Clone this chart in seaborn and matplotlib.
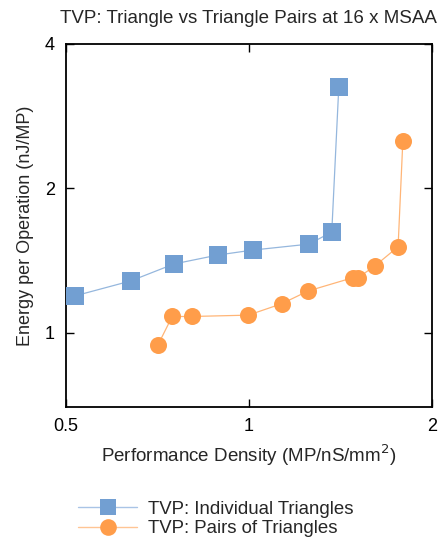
import matplotlib
matplotlib.use("Agg")
import matplotlib.pyplot as plt
from matplotlib.lines import Line2D
from matplotlib.ticker import FixedLocator, FixedFormatter, NullLocator
import seaborn as sns
import pandas as pd

# individual triangles
ind_density = [0.517, 0.639, 0.753, 0.889, 1.015, 1.255, 1.369, 1.406]
ind_energy = [1.193, 1.282, 1.391, 1.452, 1.487, 1.530, 1.621, 3.257]

# pairs of triangles
pair_density = [0.709, 0.748, 0.805, 0.998, 1.132, 1.252, 1.485, 1.513, 1.612, 1.760, 1.792]
pair_energy = [0.944, 1.081, 1.081, 1.088, 1.149, 1.222, 1.303, 1.303, 1.378, 1.511, 2.512]

x_ticks = [0.5, 1, 2]
x_labels = ['0.5', '1', '2']
y_ticks = [1, 2, 4]
y_labels = ['1', '2', '4']

blue = '#729fd2'
orange = '#ff9d4a'

sns.set_style("ticks")
plt.rcParams['font.family'] = ['Liberation Sans', 'DejaVu Sans']

fig = plt.figure(figsize=(4.42, 5.41), dpi=100)
ax = fig.add_axes([0.149, 0.2477, 0.828, 0.671])

df_ind = pd.DataFrame({'x': ind_density, 'y': ind_energy})
df_pair = pd.DataFrame({'x': pair_density, 'y': pair_energy})

sns.lineplot(data=df_ind, x='x', y='y', ax=ax, color=blue, alpha=0.75,
             linewidth=0.9, estimator=None, sort=False)
sns.lineplot(data=df_pair, x='x', y='y', ax=ax, color=orange, alpha=0.75,
             linewidth=0.9, estimator=None, sort=False)
sns.scatterplot(data=df_ind, x='x', y='y', ax=ax, color=blue, marker='s',
                s=150, linewidth=0, zorder=3)
sns.scatterplot(data=df_pair, x='x', y='y', ax=ax, color=orange, marker='o',
                s=150, linewidth=0, zorder=3)

ax.set_xscale('log')
ax.set_yscale('log')
ax.set_xlim(0.5, 2)
ax.set_ylim(0.70, 4)
ax.xaxis.set_major_locator(FixedLocator(x_ticks))
ax.xaxis.set_major_formatter(FixedFormatter(x_labels))
ax.xaxis.set_minor_locator(NullLocator())
ax.yaxis.set_major_locator(FixedLocator(y_ticks))
ax.yaxis.set_major_formatter(FixedFormatter(y_labels))
ax.yaxis.set_minor_locator(NullLocator())
ax.tick_params(direction='in', length=6, width=1, top=True, right=True,
               labelsize=13, pad=8, colors='black')
for sp in ax.spines.values():
    sp.set_linewidth(1.3)
    sp.set_color('black')

ax.set_title('TVP: Triangle vs Triangle Pairs at 16 x MSAA', fontsize=13.5,
             x=0.50, pad=15)
ax.set_xlabel('Performance Density (MP/nS/mm$^2$)', fontsize=13.5, labelpad=5)
ax.set_ylabel('Energy per Operation (nJ/MP)', fontsize=13, labelpad=8)

handles = [
    Line2D([], [], color='#a9c4e6', marker='s', markersize=12,
           markeredgewidth=0, markerfacecolor=blue, linewidth=1),
    Line2D([], [], color='#ffc594', marker='o', markersize=12,
           markeredgewidth=0, markerfacecolor=orange, linewidth=1),
]
fig.legend(handles, ['TVP: Individual Triangles', 'TVP: Pairs of Triangles'],
           loc='upper left', bbox_to_anchor=(0.156, 0.092), frameon=False,
           fontsize=13.4, handlelength=3.15, handletextpad=0.6, labelspacing=0.15,
           borderpad=0)

fig.savefig('out.png', dpi=100)
